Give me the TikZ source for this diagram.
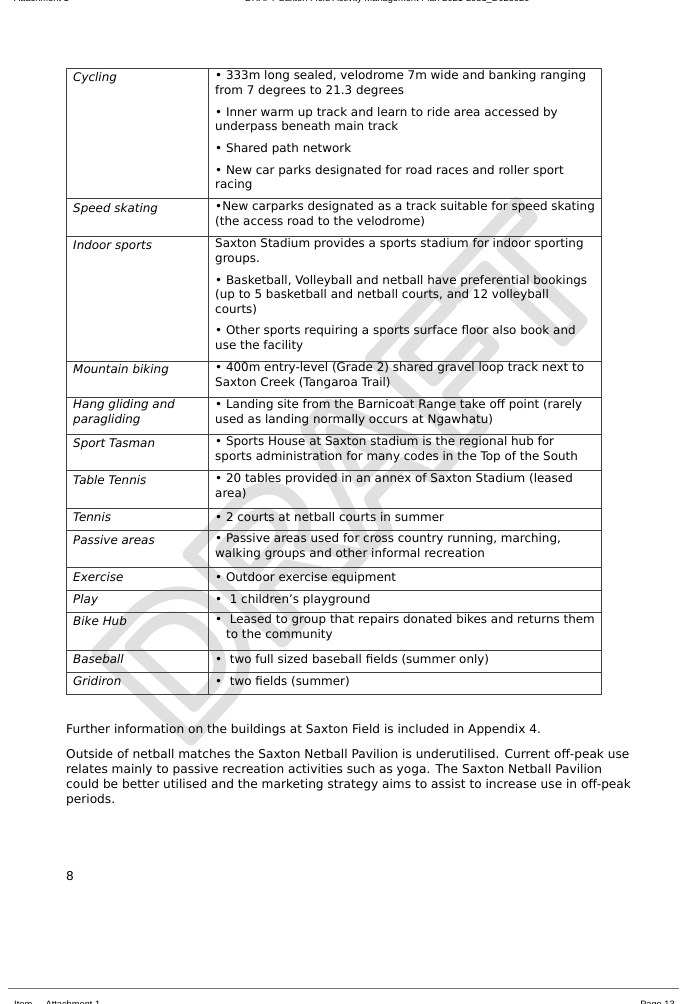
\documentclass[tikz,border=0pt]{standalone}
\usepackage{fontspec}
\setmainfont{DejaVu Sans}
\newfontfamily\arialfont{Liberation Sans}
\newfontfamily\draftfont{Liberation Sans Bold}
\newcommand{\pgap}{\\[6.3pt]}
\newcommand{\outlined}[1]{\special{pdf:literal direct q 1 Tr 11 w 1 j}#1\special{pdf:literal direct 0 Tr Q}}

\begin{document}
\begin{tikzpicture}
	[
	x = {(0.8636pt, 0pt)},
	y = {(0pt, -0.8636pt)},
	rule/.style = {draw = black!75, line width = 0.7pt},
	cell/.style = {anchor = north west, yshift = 9pt, inner sep = 0pt, align = left, font = \fontsize{10.3}{12.5}\selectfont, execute at begin node = \rule{0pt}{9pt}},
	sport/.style = {cell, font = \fontsize{10.3}{12.5}\selectfont\itshape},
	body/.style = {cell, font = \fontsize{10.5}{13}\selectfont},
	pagetext/.style = {anchor = base west, inner sep = 0pt, font = \arialfont\fontsize{8}{9}\selectfont}]
	
	\useasboundingbox (0,0) rectangle (689,1004);
	
	%% Watermark
	\node[rotate = 47, text = black!12, font = \draftfont\fontsize{160}{160}\selectfont] (draft) at (350,475) {\outlined{DRAFT}};
	
	%% Header and footer
	\node[pagetext] (headl) at (14,1.5) {Attachment 1};
	\node[pagetext] (headr) at (245,1.5) {DRAFT Saxton Field Activity Management Plan 2021-2031\_D023020};
	\draw[black!55, line width = 0.8pt] (8,988) -- (679,988);
	\node[pagetext] (footl) at (14,1007) {Item \ \ - Attachment 1};
	\node[pagetext, anchor = base east] (footr) at (675,1007) {Page 13};
	
	%% Table rules
	\draw[rule] (66,68) rectangle (601,694);
	\draw[rule] (208,68) -- (208,694);
	\foreach \y in {198,236,361,397,434,470,508,530,567,590,612,650,672}
		\draw[rule] (66,\y) -- (601,\y);
	
	%% Left column
	\node[sport] (cycling) at (73,81) {Cycling};
	\node[sport] (skating) at (73,212) {Speed skating};
	\node[sport] (indoor) at (73,249) {Indoor sports};
	\node[sport] (mtb) at (73,373) {Mountain biking};
	\node[sport] (hang) at (73,410) {Hang gliding and\\paragliding};
	\node[sport] (tasman) at (73,447) {Sport Tasman};
	\node[sport] (tabletennis) at (73,484) {Table Tennis};
	\node[sport] (tennis) at (73,521) {Tennis};
	\node[sport] (passive) at (73,544) {Passive areas};
	\node[sport] (exercise) at (73,581) {Exercise};
	\node[sport] (play) at (73,603) {Play};
	\node[sport] (bikehub) at (73,625) {Bike Hub};
	\node[sport] (baseball) at (73,663) {Baseball};
	\node[sport] (gridiron) at (73,685) {Gridiron};
	
	%% Right column
	\node[cell] (cyclingtxt) at (215,81) {• 333m long sealed, velodrome 7m wide and banking ranging\\from 7 degrees to 21.3 degrees\pgap
		• Inner warm up track and learn to ride area accessed by\\underpass beneath main track\pgap
		• Shared path network\pgap
		• New car parks designated for road races and roller sport\\racing};
	\node[cell] (skatingtxt) at (215,212) {•New carparks designated as a track suitable for speed skating\\(the access road to the velodrome)};
	\node[cell] (indoortxt) at (215,249) {Saxton Stadium provides a sports stadium for indoor sporting\\groups.\pgap
		• Basketball, Volleyball and netball have preferential bookings\\(up to 5 basketball and netball courts, and 12 volleyball\\courts)\pgap
		• Other sports requiring a sports surface floor also book and\\use the facility};
	\node[cell] (mtbtxt) at (215,373) {• 400m entry-level (Grade 2) shared gravel loop track next to\\Saxton Creek (Tangaroa Trail)};
	\node[cell] (hangtxt) at (215,410) {• Landing site from the Barnicoat Range take off point (rarely\\used as landing normally occurs at Ngawhatu)};
	\node[cell] (tasmantxt) at (215,447) {• Sports House at Saxton stadium is the regional hub for\\sports administration for many codes in the Top of the South};
	\node[cell] (tabletennistxt) at (215,484) {• 20 tables provided in an annex of Saxton Stadium (leased\\area)};
	\node[cell] (tennistxt) at (215,521) {• 2 courts at netball courts in summer};
	\node[cell] (passivetxt) at (215,544) {• Passive areas used for cross country running, marching,\\walking groups and other informal recreation};
	\node[cell] (exercisetxt) at (215,581) {• Outdoor exercise equipment};
	\node[cell] (playtxt) at (215,603) {•\ \ 1 children’s playground};
	\node[cell] (bikehubtxt) at (215,625) {•\ \ Leased to group that repairs donated bikes and returns them\\\hspace*{9.5pt}to the community};
	\node[cell] (baseballtxt) at (215,663) {•\ \ two full sized baseball fields (summer only)};
	\node[cell] (gridirontxt) at (215,685) {•\ \ two fields (summer)};
	
	%% Text below the table
	\node[body] (further) at (66,733) {Further information on the buildings at Saxton Field is included in Appendix 4.};
	\node[body] (netball) at (66,759) {Outside of netball matches the Saxton Netball Pavilion is underutilised. Current off-peak use\\relates mainly to passive recreation activities such as yoga. The Saxton Netball Pavilion\\could be better utilised and the marketing strategy aims to assist to increase use in off-peak\\periods.};
	\node[body] (pagenum) at (66,880) {8};
\end{tikzpicture}
\end{document}
